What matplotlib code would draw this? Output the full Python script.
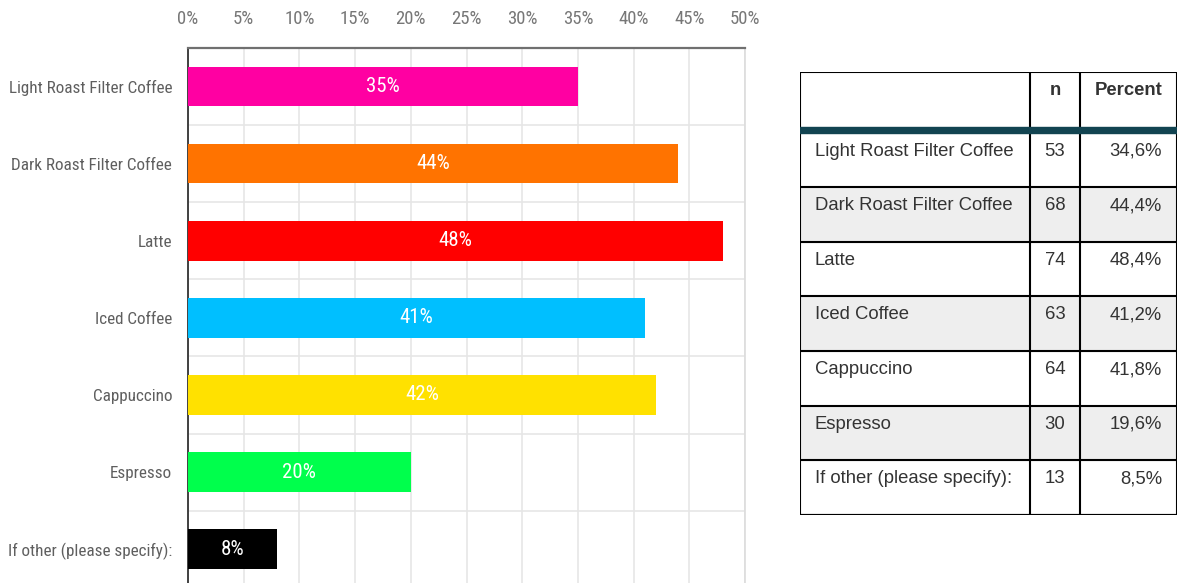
import numpy as np
import matplotlib.pyplot as plt
from matplotlib import font_manager
from matplotlib.patches import Rectangle

# survey answers, top to bottom
drinks = ['Light Roast Filter Coffee', 'Dark Roast Filter Coffee', 'Latte',
          'Iced Coffee', 'Cappuccino', 'Espresso', 'If other (please specify):']
pct_rounded = [35, 44, 48, 41, 42, 20, 8]
counts = [53, 68, 74, 63, 64, 30, 13]
pct_exact = ['34,6%', '44,4%', '48,4%', '41,2%', '41,8%', '19,6%', '8,5%']
colors = ['#FF00A2', '#FF7300', '#FF0000', '#00BFFF', '#FFE100', '#00FF4C', '#000000']
xticks = np.arange(0, 51, 5)

plt.rcParams['font.family'] = ['Liberation Sans', 'DejaVu Sans']


def narrow_font(size):
    """Pick a condensed face for the chart labels, if one is installed."""
    entries = font_manager.fontManager.ttflist
    for name in ('Liberation Sans Narrow', 'Roboto Condensed', 'Open Sans Condensed'):
        for e in entries:
            if e.name == name and e.weight in (400, 'normal', 'regular') and e.style == 'normal':
                return font_manager.FontProperties(fname=e.fname, size=size)
    for e in entries:
        if e.name in ('DejaVu Sans', 'Roboto', 'Open Sans') and 'condensed' in str(e.stretch) \
                and e.style == 'normal' and e.weight in (400, 'normal', 'regular'):
            return font_manager.FontProperties(fname=e.fname, size=size)
    # no condensed face: plain Liberation Sans, a little smaller
    return font_manager.FontProperties(family='Liberation Sans', size=size - 1.5)


cat_font = narrow_font(12.3)
tick_font = narrow_font(13.5)
bar_font = narrow_font(15)

W, H = 1179, 583
fig = plt.figure(figsize=(W/100, H/100), dpi=100)

# ---- bar chart ----
ax = fig.add_axes([188/W, 0, (745-188)/W, (H-47.5)/H])
y = np.arange(len(drinks))
bars = ax.barh(y, pct_rounded, height=0.51, color=colors, zorder=3)
for b, v in zip(bars, pct_rounded):
    ax.text(b.get_x() + b.get_width()/2, b.get_y() + b.get_height()/2, '%d%%' % v,
            ha='center', va='center', color='white', fontproperties=bar_font, zorder=4)

ax.set_xlim(0, 50)
ax.set_ylim(6.44, -0.51)
ax.set_xticks(xticks)
ax.set_xticklabels(['%d%%' % t for t in xticks], fontproperties=tick_font, color='#777777')
ax.xaxis.tick_top()
ax.set_yticks(y)
ax.set_yticklabels(drinks, fontproperties=cat_font, color='#5f5f5f')
ax.set_yticks(y[:-1] + 0.5, minor=True)
ax.tick_params(axis='x', length=0, pad=14)
ax.tick_params(axis='y', which='both', length=0, pad=11.5)
ax.grid(axis='x', color='#e6e6e6', lw=1.2, zorder=0)
ax.grid(axis='y', which='minor', color='#e6e6e6', lw=1.2, zorder=0)
ax.spines['top'].set_color('#707070')
ax.spines['top'].set_linewidth(1.6)
ax.spines['left'].set_color('#333333')
ax.spines['left'].set_linewidth(1.3)
ax.spines['right'].set_color('#dcdcdc')
ax.spines['right'].set_linewidth(1.2)
ax.spines['bottom'].set_visible(False)

# ---- summary table ----
tx0, tx1, ty0, ty1 = 800, 1177, 72, 515
tb = fig.add_axes([tx0/W, (H-ty1)/H, (tx1-tx0)/W, (ty1-ty0)/H])
tw, th = tx1 - tx0, ty1 - ty0
tb.set_xlim(0, tw)
tb.set_ylim(th, 0)
tb.axis('off')

head_h = 55
row0 = 60.5
row_h = (th - row0) / len(drinks)
col1, col2 = 230, 280
lw = 1.5
txt_color = '#333333'

for i, (d, n, p) in enumerate(zip(drinks, counts, pct_exact)):
    top = row0 + i*row_h
    if i % 2 == 1:
        tb.add_patch(Rectangle((0, top), tw, row_h, color='#eeeeee', zorder=0))
    tb.plot([0, tw], [top + row_h]*2, color='black', lw=lw, zorder=2)
    tb.text(15, top + 10, d, ha='left', va='top', fontsize=13.3, color=txt_color)
    tb.text((col1 + col2)/2, top + 10, str(n), ha='center', va='top', fontsize=13.3, color=txt_color)
    tb.text(tw - 15, top + 10, p, ha='right', va='top', fontsize=13.3, color=txt_color)

tb.text((col1 + col2)/2, 10, 'n', ha='center', va='top', fontsize=13.3,
        fontweight='bold', color=txt_color)
tb.text(tw - 15, 10, 'Percent', ha='right', va='top', fontsize=13.3,
        fontweight='bold', color=txt_color)

# outer frame and column rules
tb.plot([0, tw, tw, 0, 0], [0, 0, th, th, 0], color='black', lw=lw, zorder=2,
        solid_joinstyle='miter')
for cx in (col1, col2):
    tb.plot([cx, cx], [0, th], color='black', lw=lw, zorder=2)
# heavy rule under the header
tb.add_patch(Rectangle((0, head_h), tw, 6, color='#124451', zorder=3))

fig.savefig('out.png', dpi=100)
